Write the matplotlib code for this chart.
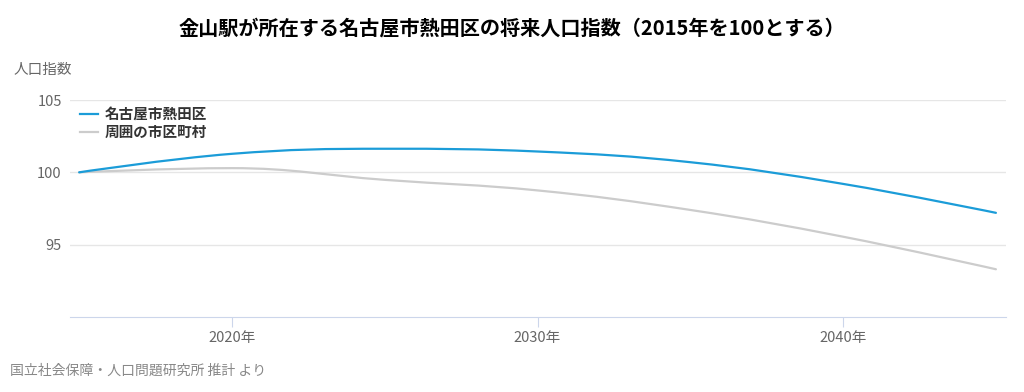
import matplotlib
matplotlib.use('Agg')
import matplotlib.pyplot as plt
from matplotlib.path import Path
from matplotlib.patches import PathPatch
from matplotlib.lines import Line2D

plt.rcParams['font.family'] = ['Noto Sans CJK JP', 'DejaVu Sans']

# データ（2015年を100とした指数）
years = [2015, 2020, 2025, 2030, 2035, 2040, 2045]
atsuta = [100, 101.28, 101.63, 101.44, 100.7, 99.2, 97.2]
shuhen = [100, 100.29, 99.48, 98.75, 97.4, 95.55, 93.3]
labels = ['名古屋市熱田区', '周囲の市区町村']
colors = ['#1b9cd8', '#cccccc']
yticks = [95, 100, 105]
xticks = [2020, 2030, 2040]


def spline_path(xs, ys, smoothing=1.5):
    # Highcharts風のスプライン（3次ベジェ）
    n = len(xs)
    denom = smoothing + 1
    lc = [(xs[0], ys[0])] * n
    rc = [(xs[0], ys[0])] * n
    for i in range(n):
        x, y = xs[i], ys[i]
        if i == 0 or i == n - 1:
            lc[i] = (x, y)
            rc[i] = (x, y)
            continue
        lx, ly = xs[i - 1], ys[i - 1]
        nx, ny = xs[i + 1], ys[i + 1]
        lcx = (smoothing * x + lx) / denom
        lcy = (smoothing * y + ly) / denom
        rcx = (smoothing * x + nx) / denom
        rcy = (smoothing * y + ny) / denom
        if rcx != lcx:
            corr = (rcy - lcy) * (rcx - x) / (rcx - lcx) + y - rcy
            lcy += corr
            rcy += corr
        if lcy > ly and lcy > y:
            lcy = max(ly, y)
            rcy = 2 * y - lcy
        elif lcy < ly and lcy < y:
            lcy = min(ly, y)
            rcy = 2 * y - lcy
        if rcy > ny and rcy > y:
            rcy = max(ny, y)
            lcy = 2 * y - rcy
        elif rcy < ny and rcy < y:
            rcy = min(ny, y)
            lcy = 2 * y - rcy
        lc[i] = (lcx, lcy)
        rc[i] = (rcx, rcy)
    verts = [(xs[0], ys[0])]
    codes = [Path.MOVETO]
    for i in range(1, n):
        verts += [rc[i - 1], lc[i], (xs[i], ys[i])]
        codes += [Path.CURVE4] * 3
    return Path(verts, codes)


fig = plt.figure(figsize=(10.24, 3.92), dpi=100)
ax = fig.add_axes([70 / 1024, (392 - 317) / 392, 936 / 1024, 217 / 392])

for vals, col in zip([shuhen, atsuta], colors[::-1]):
    patch = PathPatch(spline_path(years, vals), facecolor='none', edgecolor=col,
                      lw=1.6, capstyle='round', zorder=3)
    ax.add_patch(patch)
handles = [Line2D([], [], color=c, lw=1.6) for c in colors]

ax.set_xlim(2014.7, 2045.33)
ax.set_ylim(90, 105)
ax.set_yticks(yticks)
ax.set_xticks(xticks)
ax.set_xticklabels([f'{x}年' for x in xticks])
ax.grid(axis='y', color='#e6e6e6', lw=1)
ax.set_axisbelow(True)
for s in ['top', 'right', 'left']:
    ax.spines[s].set_visible(False)
ax.spines['bottom'].set_color('#ccd6eb')
ax.tick_params(axis='y', length=0, labelsize=10.5, labelcolor='#666666', pad=6)
ax.tick_params(axis='x', length=7, color='#ccd6eb', labelsize=10.5, labelcolor='#666666', pad=3)

leg = ax.legend(handles, labels, loc='upper left', bbox_to_anchor=(0.0, 1.02),
                frameon=False, handlelength=1.2, handletextpad=0.45,
                labelspacing=0.12, borderaxespad=0.3,
                prop={'size': 10.5, 'weight': 'bold'})
for t in leg.get_texts():
    t.set_color('#333333')

fig.text(0.5, 1 - 28 / 392, '金山駅が所在する名古屋市熱田区の将来人口指数（2015年を100とする）',
         ha='center', va='center', fontsize=14.5, fontweight='bold', color='#000000')
fig.text(14 / 1024, 1 - 70 / 392, '人口指数', ha='left', va='center',
         fontsize=10.5, color='#666666')
fig.text(10 / 1024, 1 - 371 / 392, '国立社会保障・人口問題研究所 推計 より', ha='left',
         va='center', fontsize=10, color='#888888')

fig.savefig('out.png', dpi=100)
